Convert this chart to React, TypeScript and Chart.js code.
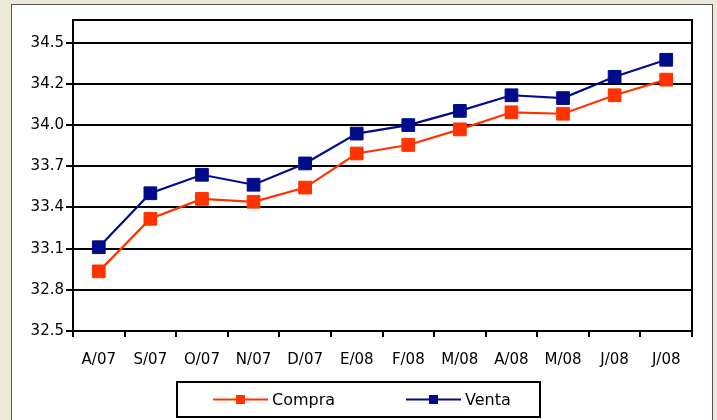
import { useEffect, useRef } from 'react';
import { Chart, registerables } from 'chart.js';

Chart.register(...registerables);

const categories = ['A/07', 'S/07', 'O/07', 'N/07', 'D/07', 'E/08', 'F/08', 'M/08', 'A/08', 'M/08', 'J/08', 'J/08'];
const compra = [32.92, 33.29, 33.43, 33.41, 33.51, 33.75, 33.81, 33.92, 34.04, 34.03, 34.16, 34.27];
const venta = [33.09, 33.47, 33.6, 33.53, 33.68, 33.89, 33.95, 34.05, 34.16, 34.14, 34.29, 34.41];
const yTickValues = [32.5, 32.79, 33.08, 33.37, 33.66, 33.95, 34.24, 34.53];
const yTickLabels = ['32.5', '32.8', '33.1', '33.4', '33.7', '34.0', '34.2', '34.5'];
const seriesNames = ['Compra', 'Venta'];
const seriesColors = ['#FF3300', '#000C8A'];

const FONT = '"DejaVu Sans", sans-serif';

const framePlugin = {
  id: 'frameAndLegend',
  afterDraw(chart: any) {
    const ctx = chart.ctx;
    const ca = chart.chartArea;
    ctx.save();
    ctx.strokeStyle = '#000';
    ctx.lineWidth = 2;
    ctx.strokeRect(ca.left, ca.top, ca.right - ca.left, ca.bottom - ca.top);

    const bx = 165, by = 377, bw = 363, bh = 35;
    ctx.fillStyle = '#fff';
    ctx.fillRect(bx, by, bw, bh);
    ctx.strokeRect(bx, by, bw, bh);
    const starts = [201, 394];
    const cy = by + bh / 2;
    chart.data.datasets.forEach((ds: any, i: number) => {
      const x0 = starts[i];
      ctx.strokeStyle = ds.borderColor;
      ctx.lineWidth = 2;
      ctx.beginPath();
      ctx.moveTo(x0, cy);
      ctx.lineTo(x0 + 55, cy);
      ctx.stroke();
      ctx.fillStyle = ds.borderColor;
      ctx.fillRect(x0 + 27.5 - 4.5, cy - 4.5, 9, 9);
      ctx.fillStyle = '#000';
      ctx.font = '16px ' + FONT;
      ctx.textBaseline = 'middle';
      ctx.textAlign = 'left';
      ctx.fillText(ds.label, x0 + 59, cy + 1);
    });
    ctx.restore();
  },
};

export default function App() {
  const ref = useRef<HTMLCanvasElement>(null);
  useEffect(() => {
    if (!ref.current) return;
    const chart = new Chart(ref.current, {
      type: 'line',
      data: {
        labels: categories,
        datasets: [compra, venta].map((d, i) => ({
          label: seriesNames[i],
          data: d,
          borderColor: seriesColors[i],
          backgroundColor: seriesColors[i],
          borderWidth: 2.2,
          pointStyle: 'rect',
          pointRadius: 9,
          pointBorderWidth: 1,
          pointBorderColor: seriesColors[i],
          pointBackgroundColor: seriesColors[i],
          tension: 0,
        })),
      },
      options: {
        animation: false,
        responsive: false,
        devicePixelRatio: 1,
        layout: { padding: { top: 15, right: 20, bottom: 49, left: 0 } },
        plugins: { legend: { display: false }, tooltip: { enabled: false } },
        scales: {
          x: {
            type: 'category',
            offset: true,
            afterFit: (s: any) => { s.height = 40; },
            grid: { offset: true, drawOnChartArea: false, drawTicks: true, tickLength: 6, color: '#000', lineWidth: 2 },
            border: { display: true, color: '#000', width: 2 },
            ticks: { color: '#000', padding: 14, font: { family: FONT, size: 15 }, maxRotation: 0, autoSkip: false },
          },
          y: {
            type: 'linear',
            min: 32.5,
            max: 34.69,
            afterFit: (s: any) => { s.width = 61; },
            afterBuildTicks: (s: any) => { s.ticks = yTickValues.map((v) => ({ value: v })); },
            grid: { color: '#000', lineWidth: 2, drawTicks: true, tickLength: 7 },
            border: { display: true, color: '#000', width: 2 },
            ticks: {
              color: '#000',
              padding: 2,
              font: { family: FONT, size: 15 },
              callback: (_v: any, i: number) => yTickLabels[i],
            },
          },
        },
      },
      plugins: [framePlugin],
    } as any);
    return () => chart.destroy();
  }, []);

  return (
    <div style={{ position: 'fixed', left: 0, top: 0, width: 717, height: 420, background: '#ECE9D8', overflow: 'hidden' }}>
      <div style={{ position: 'absolute', left: 11, top: 4, width: 700, height: 420, border: '1px solid #555', background: '#fff' }}>
        <canvas ref={ref} width={700} height={415} style={{ display: 'block', width: 700, height: 415 }} />
      </div>
    </div>
  );
}
